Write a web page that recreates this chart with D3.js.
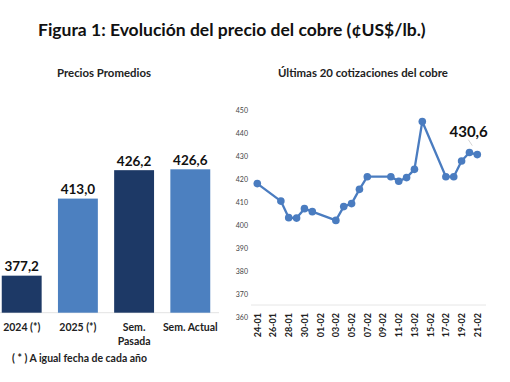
<!DOCTYPE html>
<html><head><meta charset="utf-8">
<script src="https://cdn.jsdelivr.net/npm/d3@7"></script>
<style>
html,body{margin:0;padding:0;background:#fff;}
svg{display:block;font-family:Lato,"Open Sans",sans-serif;}
</style></head>
<body>
<script>
// ---- data ----
const barCategories = [["2024 (*)"], ["2025 (*)"], ["Sem.", "Pasada"], ["Sem. Actual"]];
const barValues = [377.2, 413.0, 426.2, 426.6];
const barLabels = ["377,2", "413,0", "426,2", "426,6"];
const barColors = ["#1d3966", "#4c80c0", "#1d3966", "#4c80c0"];

const lineDates = ["24-01","27-01","28-01","29-01","30-01","31-01",
  "03-02","04-02","05-02","06-02","07-02",
  "10-02","11-02","12-02","13-02","14-02",
  "17-02","18-02","19-02","20-02","21-02"];
const lineValues = [418.0, 410.4, 403.2, 403.0, 407.1, 405.8,
  402.0, 408.0, 409.3, 415.5, 421.0,
  421.0, 419.0, 420.6, 424.2, 445.0,
  421.0, 421.0, 427.8, 431.5, 430.6];
const lineTicks = ["24-01","26-01","28-01","30-01","01-02","03-02","05-02","07-02",
  "09-02","11-02","13-02","15-02","17-02","19-02","21-02"];
const lineYTicks = [360,370,380,390,400,410,420,430,440,450];
const lastLabel = "430,6";

const W = 510, H = 382;
const svg = d3.select("body").append("svg").attr("width", W).attr("height", H);

function fit(sel, w) {
  const n = sel.node();
  const fs = parseFloat(sel.attr("font-size"));
  const len = n.getComputedTextLength();
  sel.attr("font-size", (fs * w / len).toFixed(2));
  return sel;
}

// title
fit(svg.append("text").attr("x", 38).attr("y", 36).attr("font-size", 17)
  .attr("font-weight", 700).attr("fill", "#111")
  .text("Figura 1: Evolución del precio del cobre (¢US$/lb.)"), 388);

// subtitles
fit(svg.append("text").attr("x", 57).attr("y", 77).attr("font-size", 11)
  .attr("font-weight", 700).attr("fill", "#222").text("Precios Promedios"), 94);
fit(svg.append("text").attr("x", 278).attr("y", 77).attr("font-size", 11)
  .attr("font-weight", 700).attr("fill", "#222").text("Últimas 20 cotizaciones del cobre"), 170);

// ---- bar chart ----
const xb = d3.scaleBand().domain(d3.range(barValues.length))
  .range([-6.4, 218.4]).paddingInner(0.29).paddingOuter(0.145);
const yb = d3.scaleLinear().domain([360, 430]).range([312.7, 312.7 - 70 * 2.153]);

svg.append("line").attr("x1", 0).attr("x2", 219).attr("y1", yb(360)).attr("y2", yb(360))
  .attr("stroke", "#e3e3e3").attr("stroke-width", 1);

svg.append("g").selectAll("rect").data(barValues).join("rect")
  .attr("x", (d, i) => xb(i)).attr("width", xb.bandwidth())
  .attr("y", d => yb(d)).attr("height", d => yb(360) - yb(d))
  .attr("fill", (d, i) => barColors[i]);

svg.append("g").selectAll("text").data(barValues).join("text")
  .attr("x", (d, i) => xb(i) + xb.bandwidth() / 2).attr("y", d => yb(d) - 4.5)
  .attr("text-anchor", "middle").attr("font-size", 13.5).attr("font-weight", 700)
  .attr("fill", "#111").text((d, i) => barLabels[i]);

const catG = svg.append("g");
barCategories.forEach((lines, i) => {
  lines.forEach((t, j) => {
    catG.append("text").attr("x", xb(i) + xb.bandwidth() / 2).attr("y", 331 + j * 13.5)
      .attr("text-anchor", "middle").attr("font-size", 10.5).attr("font-weight", 700)
      .attr("fill", "#222").text(t);
  });
});

fit(svg.append("text").attr("x", 12).attr("y", 362).attr("font-size", 8.5)
  .attr("font-weight", 700).attr("fill", "#222").text("( * ) A igual fecha de cada año"), 135);

// ---- line chart ----
const parse = d3.timeParse("%d-%m-%Y");
const toDate = s => parse(s + "-2025");
const xl = d3.scaleTime().domain([toDate("24-01"), toDate("21-02")]).range([257.3, 477.3]);
const yl = d3.scaleLinear().domain([360, 450]).range([317, 110]);

svg.append("line").attr("x1", 251).attr("x2", 486).attr("y1", 305).attr("y2", 305)
  .attr("stroke", "#e6e6e6").attr("stroke-width", 1);

const yAxis = svg.append("g").attr("transform", "translate(248,0)")
  .call(d3.axisLeft(yl).tickValues(lineYTicks).tickSize(0).tickPadding(0).tickFormat(d3.format("d")));
yAxis.select(".domain").remove();
yAxis.selectAll("text").attr("font-size", 7).attr("fill", "#444").attr("font-family", "Lato, sans-serif");

const xAxis = svg.append("g").attr("transform", "translate(0,312)")
  .call(d3.axisBottom(xl).tickValues(lineTicks.map(toDate)).tickSize(0).tickPadding(0)
    .tickFormat(d3.timeFormat("%d-%m")));
xAxis.select(".domain").remove();
xAxis.selectAll("text")
  .attr("transform", "rotate(-90)").attr("text-anchor", "end")
  .attr("x", 0).attr("y", 0).attr("dx", "0").attr("dy", "0.33em")
  .attr("font-size", 9).attr("font-weight", 700).attr("fill", "#222")
  .attr("font-family", "Lato, sans-serif");
xAxis.selectAll(".tick text").attr("transform", "rotate(-90)");
// rotated labels: place end at top (y=312 -> x offset in rotated frame)
xAxis.selectAll(".tick text").attr("x", -1);

const pts = lineDates.map((d, i) => ({ x: xl(toDate(d)), y: yl(lineValues[i]) }));
svg.append("path").datum(pts)
  .attr("d", d3.line().x(d => d.x).y(d => d.y))
  .attr("fill", "none").attr("stroke", "#4a7cc0").attr("stroke-width", 2.3)
  .attr("stroke-linejoin", "round");
svg.append("g").selectAll("circle").data(pts).join("circle")
  .attr("cx", d => d.x).attr("cy", d => d.y).attr("r", 3.8).attr("fill", "#4a7cc0");

const last = pts[pts.length - 1];
svg.append("line").attr("x1", last.x - 9).attr("y1", last.y - 15)
  .attr("x2", last.x - 5).attr("y2", last.y - 9)
  .attr("stroke", "#c8c8c8").attr("stroke-width", 0.8);
svg.append("text").attr("x", last.x + 10.5).attr("y", last.y - 18)
  .attr("text-anchor", "end").attr("font-size", 15).attr("font-weight", 700)
  .attr("fill", "#111").text(lastLabel);
</script>
</body></html>
